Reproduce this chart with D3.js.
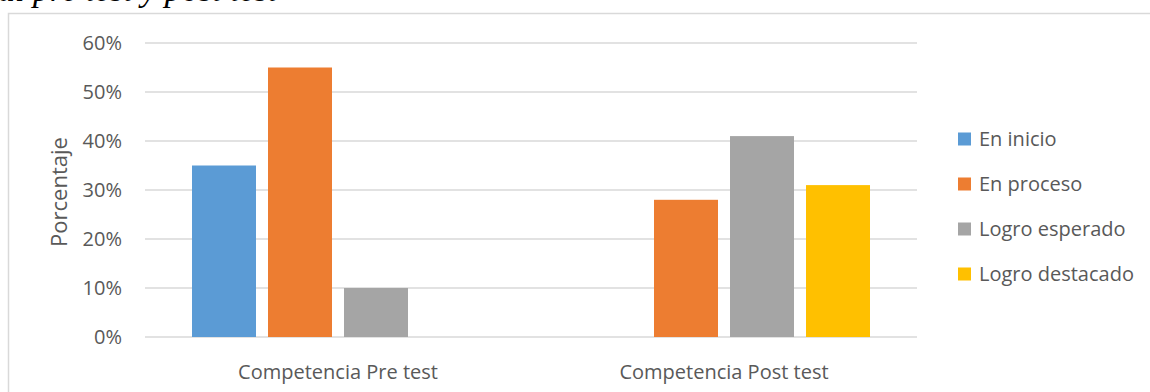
<!DOCTYPE html>
<html>
<head>
<meta charset="utf-8">
<script src="https://cdn.jsdelivr.net/npm/d3@7"></script>
<style>
  html, body { margin: 0; padding: 0; background: #ffffff; }
  svg { display: block; }
  text { font-family: "Open Sans", "Noto Sans", sans-serif; fill: #595959; }
</style>
</head>
<body>
<svg id="chart" width="1150" height="392"></svg>
<script>
// Categories and series
const categories = ["Competencia Pre test", "Competencia Post test"];
const seriesNames = ["En inicio", "En proceso", "Logro esperado", "Logro destacado"];
const seriesColors = ["#5B9BD5", "#ED7D31", "#A5A5A5", "#FFC000"];

// Share of students per level, one array per test
const preTest = [0.35, 0.55, 0.10, 0];
const postTest = [0, 0.28, 0.41, 0.31];

const yTicks = [0, 0.1, 0.2, 0.3, 0.4, 0.5, 0.6];

const svg = d3.select("#chart");

// Caption fragment above the chart frame
svg.append("text")
  .attr("x", -2)
  .attr("y", 1)
  .style("font-family", "'Liberation Serif', 'Times New Roman', serif")
  .style("font-style", "italic")
  .style("font-size", "34px")
  .style("fill", "#000")
  .text("al pre test y post test");

// Chart frame
svg.append("rect")
  .attr("x", 8.5).attr("y", 13.5)
  .attr("width", 1300).attr("height", 500)
  .attr("fill", "none")
  .attr("stroke", "#d9d9d9")
  .attr("stroke-width", 1.5);

const plot = { left: 145, right: 917, top: 43, bottom: 337 };

const y = d3.scaleLinear().domain([0, 0.6]).range([plot.bottom, plot.top]);
const x0 = d3.scaleBand().domain(categories).range([plot.left, plot.right]).padding(0);
const x1 = d3.scaleBand().domain(seriesNames)
  .range([47, x0.bandwidth() - 47])
  .paddingInner(0.158).paddingOuter(0);
const color = d3.scaleOrdinal().domain(seriesNames).range(seriesColors);

// Horizontal gridlines
svg.append("g")
  .selectAll("line")
  .data(yTicks)
  .join("line")
  .attr("x1", plot.left).attr("x2", plot.right)
  .attr("y1", d => y(d)).attr("y2", d => y(d))
  .attr("stroke", "#d9d9d9")
  .attr("stroke-width", 1.5);

// Y tick labels
const pct = d3.format(".0%");
svg.append("g")
  .selectAll("text")
  .data(yTicks)
  .join("text")
  .attr("x", 122)
  .attr("y", d => y(d))
  .attr("dy", "0.36em")
  .attr("text-anchor", "end")
  .style("font-size", "20px")
  .text(d => pct(d));

// Y axis title
svg.append("text")
  .attr("transform", "translate(67,192) rotate(-90)")
  .attr("text-anchor", "middle")
  .style("font-size", "22px")
  .text("Porcentaje");

// Bars
const rows = categories.map((c, i) => ({
  category: c,
  values: (i === 0 ? preTest : postTest).map((v, j) => ({ name: seriesNames[j], value: v }))
}));

const groups = svg.append("g")
  .selectAll("g")
  .data(rows)
  .join("g")
  .attr("transform", d => `translate(${x0(d.category)},0)`);

groups.selectAll("rect")
  .data(d => d.values.filter(v => v.value > 0))
  .join("rect")
  .attr("x", d => x1(d.name))
  .attr("width", x1.bandwidth())
  .attr("y", d => y(d.value))
  .attr("height", d => y(0) - y(d.value))
  .attr("fill", d => color(d.name));

// Category labels
svg.append("g")
  .selectAll("text")
  .data(categories)
  .join("text")
  .attr("x", d => x0(d) + x0.bandwidth() / 2)
  .attr("y", 379)
  .attr("text-anchor", "middle")
  .style("font-size", "20px")
  .text(d => d);

// Legend
const legend = svg.append("g")
  .selectAll("g")
  .data(seriesNames)
  .join("g")
  .attr("transform", (d, i) => `translate(958,${139 + i * 45})`);

legend.append("rect")
  .attr("x", 0).attr("y", -6.5)
  .attr("width", 13).attr("height", 13)
  .attr("fill", d => color(d));

legend.append("text")
  .attr("x", 21)
  .attr("y", 0)
  .attr("dy", "0.36em")
  .style("font-size", "20px")
  .text(d => d);
</script>
</body>
</html>
